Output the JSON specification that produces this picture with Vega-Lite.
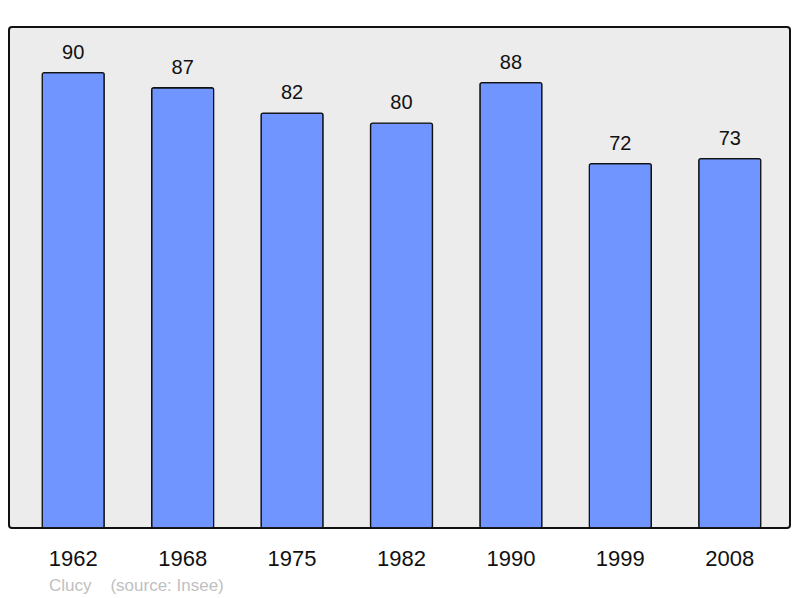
{
  "$schema": "https://vega.github.io/schema/vega-lite/v6.json",
  "autosize": "none",
  "width": 781,
  "height": 501,
  "padding": {"left": 9, "top": 27, "right": 10, "bottom": 70},
  "background": "white",
  "data": {"values": [
    {"year": "1962", "pop": 90},
    {"year": "1968", "pop": 87},
    {"year": "1975", "pop": 82},
    {"year": "1982", "pop": 80},
    {"year": "1990", "pop": 88},
    {"year": "1999", "pop": 72},
    {"year": "2008", "pop": 73}
  ]},
  "title": {
    "text": "Clucy\u00a0\u00a0\u00a0\u00a0(source: Insee)",
    "orient": "bottom",
    "anchor": "start",
    "frame": "group",
    "dx": 40,
    "offset": 22,
    "font": "Liberation Sans",
    "fontSize": 17,
    "fontWeight": "normal",
    "color": "#c0c0c0",
    "baseline": "alphabetic"
  },
  "config": {
    "view": {"fill": "#ececec", "stroke": "#111111", "strokeWidth": 2, "cornerRadius": 3}
  },
  "encoding": {
    "x": {
      "field": "year", "type": "nominal", "sort": null,
      "scale": {"paddingInner": 0.4334, "paddingOuter": 0.2855, "align": 0.532},
      "axis": {
        "title": null, "domain": false, "ticks": false, "tickSize": 0, "grid": false,
        "labelAngle": 0, "labelFont": "Liberation Sans", "labelFontSize": 22,
        "labelColor": "#111111", "labelPadding": 37, "labelBaseline": "alphabetic"
      }
    },
    "y": {
      "field": "pop", "type": "quantitative",
      "scale": {"domain": [0, 99], "nice": false, "zero": true},
      "axis": null
    }
  },
  "layer": [
    {
      "mark": {"type": "bar", "fill": "#7095ff", "stroke": "#111111", "strokeWidth": 1.3, "cornerRadius": 2}
    },
    {
      "mark": {"type": "text", "baseline": "alphabetic", "dy": -14, "font": "Liberation Sans", "fontSize": 20, "color": "#111111"},
      "encoding": {"text": {"field": "pop", "type": "quantitative"}}
    }
  ]
}
